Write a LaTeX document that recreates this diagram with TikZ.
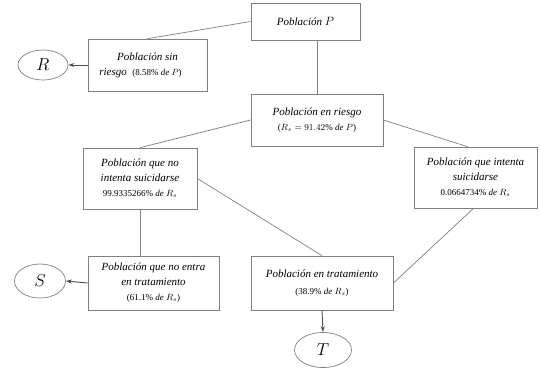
\documentclass[tikz,border=0pt]{standalone}
\usepackage{fontspec}
\setmainfont{Liberation Serif}
\usetikzlibrary{arrows.meta,shapes.geometric}
\definecolor{linec}{HTML}{808080}
\definecolor{boxc}{HTML}{808080}
\begin{document}
\begin{tikzpicture}[x=1pt,y=-1pt,
  box/.style={draw=boxc,line width=0.7pt,align=center,inner sep=2pt,font=\fontsize{11}{15}\selectfont\itshape},
  oval/.style={draw=boxc,ellipse,line width=0.7pt,inner sep=0pt,font=\fontsize{17}{17}\selectfont},
  conn/.style={draw=linec,line width=0.7pt},
  arr/.style={draw=black!70,line width=0.9pt,-{Stealth[length=6pt,width=4pt]}}]
\useasboundingbox (0,0) rectangle (541,370);
\newcommand{\nsm}{\fontsize{9}{11}\selectfont\upshape}
\node[box,minimum width=109pt,minimum height=37pt] (P) at (305.5,21.5) {Población {\fontsize{13}{13}\selectfont$P$}};
\node[box,minimum width=119pt,minimum height=52pt] (sinr) at (147.5,65) {Población sin\\\hspace*{-14pt}riesgo\ \ {\nsm(8.58\% {\itshape de} $P$)}};
\node[box,minimum width=132pt,minimum height=52pt] (riesgo) at (317,120) {Población en riesgo\\{\nsm($R_s = 91.42\%$ {\itshape de} $P$)}};
\node[box,minimum width=114pt,minimum height=61pt] (noint) at (140,178.5) {Población que no\\intenta suicidarse\\{\nsm 99.9335266\% {\itshape de} $R_s$}};
\node[box,minimum width=123pt,minimum height=61pt] (int) at (475.5,177.5) {Población que intenta\\suicidarse\\{\nsm 0.0664734\% {\itshape de} $R_s$}};
\node[box,minimum width=131pt,minimum height=54pt] (noentra) at (153.5,283) {Población que no entra\\en tratamiento\\{\nsm(61.1\% {\itshape de} $R_s$)}};
\node[box,minimum width=142pt,minimum height=54pt] (trat) at (322,283) {Población en tratamiento\\[2pt]{\nsm(38.9\% {\itshape de} $R_s$)}};
\node[oval,minimum width=50pt,minimum height=30pt] (R) at (43,65) {$R$};
\node[oval,minimum width=51pt,minimum height=34pt] (S) at (40,281) {$S$};
\node[oval,minimum width=57pt,minimum height=35pt] (T) at (323,350) {$T$};
\draw[conn] (P.west) -- (sinr.north);
\draw[conn] (riesgo.north) -- (riesgo.north |- P.south);
\draw[conn] (riesgo.west) -- (noint.north);
\draw[conn] (riesgo.east) -- ([xshift=-8pt]int.north);
\draw[conn] (noint.east) -- (trat.north);
\draw[conn] (noint.south) -- (noint.south |- noentra.north);
\draw[conn] ([xshift=-2pt]int.south) -- (trat.east);
\draw[arr] (sinr.west) -- (R.east);
\draw[arr] (noentra.west) -- (S.east);
\draw[arr] (trat.south) -- (T.north);
\end{tikzpicture}
\end{document}
